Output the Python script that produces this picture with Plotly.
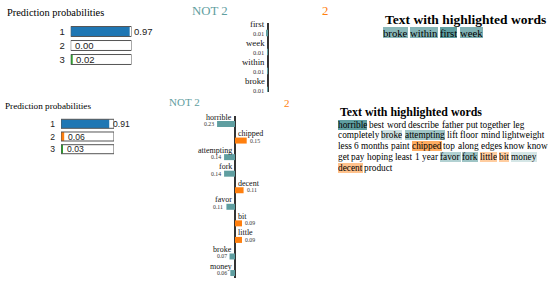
import plotly.graph_objects as go

W, H = 550, 283

# ---------------- data ----------------
classes = ["1", "2", "3"]
class_colors = ["#1f77b4", "#ff7f0e", "#2ca02c"]
top_probs = [0.97, 0.00, 0.02]
bottom_probs = [0.91, 0.06, 0.03]

neg_label = "NOT 2"
pos_label = "2"
NEG_COLOR = "#5F9EA0"
POS_COLOR = "#ff7f0e"

top_features = ["first", "week", "within", "broke"]
top_weights = [-0.012, -0.0096, -0.0092, -0.0088]

bottom_features = ["horrible", "chipped", "attempting", "fork", "decent",
                   "favor", "bit", "little", "broke", "money"]
bottom_weights = [-0.23, 0.15, -0.14, -0.14, 0.11, -0.11, 0.09, 0.09, -0.07, -0.06]

top_text_lines = [["broke", "within", "first", "week"]]
bottom_text_lines = [
    "horrible best word describe father put together leg".split(),
    "completely broke attempting lift floor mind lightweight".split(),
    "less 6 months paint chipped top along edges know know".split(),
    "get pay hoping least 1 year favor fork little bit money".split(),
    "decent product".split(),
]

title_probs = "Prediction probabilities"
title_text = "Text with highlighted words"

# Liberation Serif (Times metrics) regular advance widths, per 1000 em
SERIF_W = dict(a=444, b=500, c=444, d=500, e=444, f=333, g=500, h=500, i=278, j=278,
               k=500, l=278, m=778, n=500, o=500, p=500, q=500, r=333, s=389, t=278,
               u=500, v=500, w=722, x=500, y=500, z=444)
for _d in "0123456789":
    SERIF_W[_d] = 500
SPACE_W = 250


def word_w(word, fs):
    return sum(SERIF_W.get(ch, 500) for ch in word) * fs / 1000.0


def pxx(x):
    return x / W


def pyy(y):
    return 1 - y / H


fig = go.Figure()
annotations = []
layout_axes = {}

SERIF = "Liberation Serif"
SANS = "Liberation Sans"


def add_prob_chart(n, probs, x0, x1, ctop, spacing, fs, standoff, bw):
    xr = "x" if n == 1 else f"x{n}"
    yr = "y" if n == 1 else f"y{n}"
    xk = "xaxis" if n == 1 else f"xaxis{n}"
    yk = "yaxis" if n == 1 else f"yaxis{n}"
    ys = list(range(len(probs)))
    fig.add_trace(go.Bar(x=probs, y=ys, orientation="h", width=bw,
                         marker=dict(color=class_colors, line=dict(width=0)),
                         xaxis=xr, yaxis=yr, hoverinfo="skip"))
    fig.add_trace(go.Bar(x=[1] * len(probs), y=ys, orientation="h", width=bw,
                         marker=dict(color="rgba(0,0,0,0)", line=dict(color="#555", width=1)),
                         xaxis=xr, yaxis=yr, hoverinfo="skip", cliponaxis=False))
    top = ctop - spacing / 2
    bot = ctop + spacing * (len(probs) - 0.5)
    layout_axes[xk] = dict(domain=[pxx(x0), pxx(x1)], range=[0, 1], anchor=yr,
                           showgrid=False, zeroline=False, showticklabels=False,
                           showline=False, fixedrange=True)
    layout_axes[yk] = dict(domain=[pyy(bot), pyy(top)], range=[len(probs) - 0.5, -0.5],
                           anchor=xr, tickvals=ys, ticktext=classes, ticks="",
                           showgrid=False, zeroline=False, showline=False,
                           ticklabelstandoff=standoff,
                           tickfont=dict(family=SANS, size=fs, color="#222"))
    for i, p in enumerate(probs):
        annotations.append(dict(xref=xr, yref=yr, x=p, y=i, text=f"{p:.2f}",
                                showarrow=False, xanchor="left", yanchor="middle",
                                xshift=2, font=dict(family=SANS, size=fs, color="#222")))


def add_feature_chart(n, feats, weights, xc, halfw, ppu, ytop, ybot, y0, spacing,
                      lab_fs, val_fs, lab_off, bar_h):
    xr = f"x{n}"
    yr = f"y{n}"
    ys = list(range(len(feats)))
    colors = [NEG_COLOR if w < 0 else POS_COLOR for w in weights]
    fig.add_trace(go.Bar(x=weights, y=ys, orientation="h", width=bar_h / spacing,
                         marker=dict(color=colors, line=dict(width=0)),
                         xaxis=xr, yaxis=yr, hoverinfo="skip"))
    rng = halfw / ppu
    r_top = -(y0 - ytop) / spacing
    r_bot = (len(feats) - 1) + (ybot - (y0 + spacing * (len(feats) - 1))) / spacing
    layout_axes[f"xaxis{n}"] = dict(domain=[pxx(xc - halfw), pxx(xc + halfw)],
                                    range=[-rng, rng], anchor=yr, showgrid=False,
                                    zeroline=True, zerolinecolor="#333", zerolinewidth=1.5,
                                    showticklabels=False, showline=False, fixedrange=True)
    layout_axes[f"yaxis{n}"] = dict(domain=[pyy(ybot), pyy(ytop)], range=[r_bot, r_top],
                                    anchor=xr, showgrid=False, zeroline=False,
                                    showticklabels=False, showline=False, fixedrange=True)
    for i, (f, w) in enumerate(zip(feats, weights)):
        neg = w < 0
        annotations.append(dict(xref=xr, yref=yr, x=0, y=i - lab_off, text=f,
                                showarrow=False, xanchor="right" if neg else "left",
                                yanchor="middle", xshift=-1 if neg else 1,
                                font=dict(family=SERIF, size=lab_fs, color="#111")))
        annotations.append(dict(xref=xr, yref=yr, x=w, y=i, text=f"{abs(w):.2f}",
                                showarrow=False, xanchor="right" if neg else "left",
                                yanchor="middle", xshift=-1 if neg else 1,
                                font=dict(family=SERIF, size=val_fs, color="#333")))


def add_text_block(lines, feats, weights, x0, y_title, title_fs, y_line0, line_h, fs):
    annotations.append(dict(xref="paper", yref="paper", x=pxx(x0), y=pyy(y_title),
                            text=f"<b>{title_text}</b>", showarrow=False,
                            xanchor="left", yanchor="middle",
                            font=dict(family=SERIF, size=title_fs, color="#000")))
    wmap = dict(zip(feats, weights))
    mx = max(abs(w) for w in weights)
    for k, line in enumerate(lines):
        x = x0
        yc = y_line0 + k * line_h
        for word in line:
            bg = "rgba(0,0,0,0)"
            if word in wmap:
                w = wmap[word]
                a = abs(w) / mx
                base = (95, 158, 160) if w < 0 else (255, 127, 14)
                bg = f"rgba({base[0]},{base[1]},{base[2]},{a:.3f})"
            annotations.append(dict(xref="paper", yref="paper", x=pxx(x), y=pyy(yc),
                                    text=word, showarrow=False, xanchor="left",
                                    yanchor="middle", bgcolor=bg, borderpad=0,
                                    borderwidth=0, height=round(fs * 1.05, 1),
                                    font=dict(family=SERIF, size=fs, color="#000")))
            x += word_w(word, fs) + SPACE_W * fs / 1000.0


# ---------------- top panel ----------------
annotations.append(dict(xref="paper", yref="paper", x=pxx(5), y=pyy(12.5),
                        text=title_probs, showarrow=False, xanchor="left", yanchor="middle",
                        font=dict(family=SERIF, size=10.4, color="#000")))
add_prob_chart(1, top_probs, 70.7, 131.5, 31.5, 14, 9.5, 5, 0.71)
annotations.append(dict(xref="paper", yref="paper", x=pxx(210), y=pyy(11),
                        text=neg_label, showarrow=False, xanchor="center", yanchor="middle",
                        font=dict(family=SERIF, size=12.8, color=NEG_COLOR)))
annotations.append(dict(xref="paper", yref="paper", x=pxx(325), y=pyy(11),
                        text=pos_label, showarrow=False, xanchor="center", yanchor="middle",
                        font=dict(family=SERIF, size=12.8, color=POS_COLOR)))
add_feature_chart(2, top_features, top_weights, 268, 68, 88, 23, 92, 33, 19,
                  8.8, 6.4, 0.47, 6.5)
add_text_block(top_text_lines, top_features, top_weights, 382.7, 19.4, 13.5, 33, 12, 10.7)

# ---------------- bottom panel ----------------
annotations.append(dict(xref="paper", yref="paper", x=pxx(3), y=pyy(106.2),
                        text=title_probs, showarrow=False, xanchor="left", yanchor="middle",
                        font=dict(family=SERIF, size=9.2, color="#000")))
add_prob_chart(3, bottom_probs, 61, 114, 123.8, 12.7, 8.6, 5, 0.71)
annotations.append(dict(xref="paper", yref="paper", x=pxx(184), y=pyy(102),
                        text=neg_label, showarrow=False, xanchor="center", yanchor="middle",
                        font=dict(family=SERIF, size=11, color=NEG_COLOR)))
annotations.append(dict(xref="paper", yref="paper", x=pxx(287), y=pyy(102.5),
                        text=pos_label, showarrow=False, xanchor="center", yanchor="middle",
                        font=dict(family=SERIF, size=11, color=POS_COLOR)))
add_feature_chart(4, bottom_features, bottom_weights, 235, 65, 78, 116, 278, 124, 16.56,
                  8.0, 5.8, 0.42, 6)
add_text_block(bottom_text_lines, bottom_features, bottom_weights, 337.7, 112.5, 11.9,
               124.5, 10.8, 9.3)

fig.update_layout(width=W, height=H, margin=dict(l=0, r=0, t=0, b=0),
                  paper_bgcolor="white", plot_bgcolor="white", showlegend=False,
                  barmode="overlay", annotations=annotations, **layout_axes)

fig.write_html("out.html", config={"displayModeBar": False},
               post_script="document.body.style.margin='0';")
